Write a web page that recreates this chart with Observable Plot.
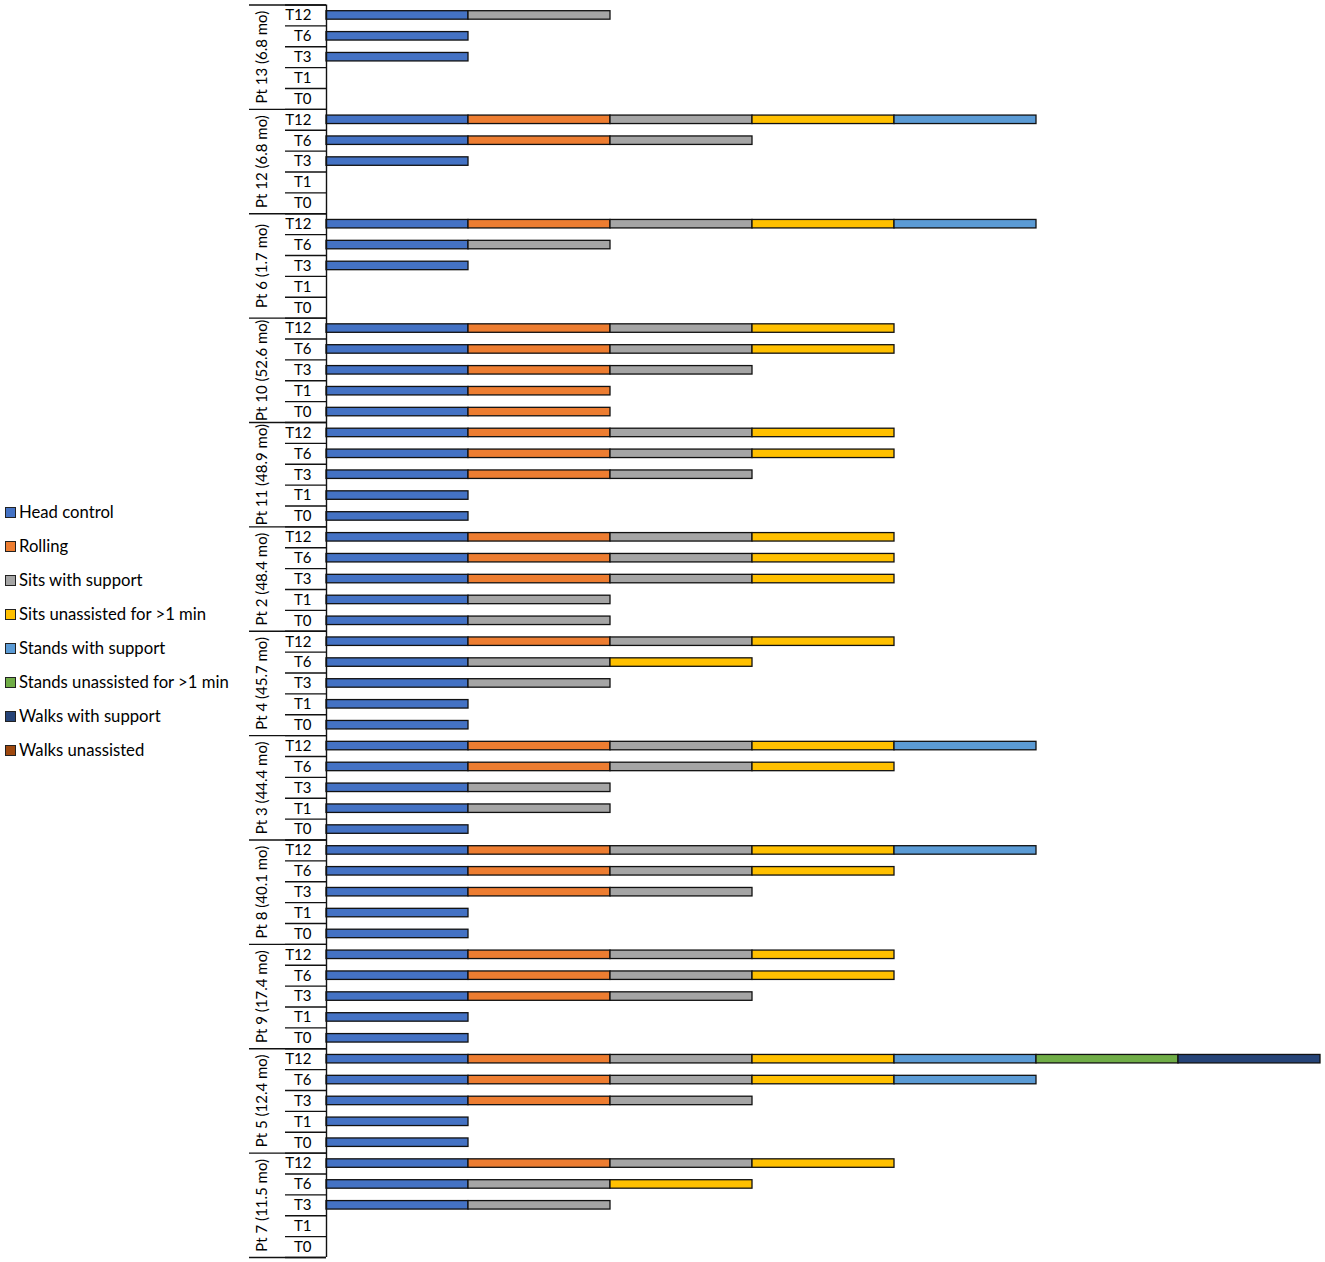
<!DOCTYPE html>
<html>
<head>
<meta charset="utf-8">
<script src="https://cdn.jsdelivr.net/npm/d3@7"></script>
<script src="https://cdn.jsdelivr.net/npm/@observablehq/plot@0.6"></script>
<style>
  html, body { margin: 0; padding: 0; background: #fff; }
  #wrap { position: relative; width: 1325px; height: 1262px; font-family: Lato, "Open Sans", sans-serif; }
  #legend { position: absolute; left: 5px; top: 495px; }
  .item { height: 34px; display: flex; align-items: center; font-size: 16.7px; color: #000; white-space: nowrap; }
  .sw { width: 9px; height: 9px; border: 1px solid #222; margin-right: 3px; flex: none; }
</style>
</head>
<body>
<div id="wrap"><div id="legend"></div></div>
<script>
const patients = ["Pt 13 (6.8 mo)", "Pt 12 (6.8 mo)", "Pt 6 (1.7 mo)", "Pt 10 (52.6 mo)", "Pt 11 (48.9 mo)", "Pt 2 (48.4 mo)", "Pt 4 (45.7 mo)", "Pt 3 (44.4 mo)", "Pt 8 (40.1 mo)", "Pt 9 (17.4 mo)", "Pt 5 (12.4 mo)", "Pt 7 (11.5 mo)"];
const timepoints = ["T12", "T6", "T3", "T1", "T0"];
const milestones = ["Head control", "Rolling", "Sits with support", "Sits unassisted for >1 min", "Stands with support", "Stands unassisted for >1 min", "Walks with support", "Walks unassisted"];
const colors = ["#4472C4", "#ED7D31", "#A5A5A5", "#FFC000", "#5B9BD5", "#70AD47", "#264478", "#9E480E"];

// milestones achieved per time point (T12, T6, T3, T1, T0), as indices into milestones
const pt13 = [[0, 2], [0], [0], [], []];
const pt12 = [[0, 1, 2, 3, 4], [0, 1, 2], [0], [], []];
const pt6  = [[0, 1, 2, 3, 4], [0, 2], [0], [], []];
const pt10 = [[0, 1, 2, 3], [0, 1, 2, 3], [0, 1, 2], [0, 1], [0, 1]];
const pt11 = [[0, 1, 2, 3], [0, 1, 2, 3], [0, 1, 2], [0], [0]];
const pt2  = [[0, 1, 2, 3], [0, 1, 2, 3], [0, 1, 2, 3], [0, 2], [0, 2]];
const pt4  = [[0, 1, 2, 3], [0, 2, 3], [0, 2], [0], [0]];
const pt3  = [[0, 1, 2, 3, 4], [0, 1, 2, 3], [0, 2], [0, 2], [0]];
const pt8  = [[0, 1, 2, 3, 4], [0, 1, 2, 3], [0, 1, 2], [0], [0]];
const pt9  = [[0, 1, 2, 3], [0, 1, 2, 3], [0, 1, 2], [0], [0]];
const pt5  = [[0, 1, 2, 3, 4, 5, 6], [0, 1, 2, 3, 4], [0, 1, 2], [0], [0]];
const pt7  = [[0, 1, 2, 3], [0, 2, 3], [0, 2], [], []];
const allPatients = [pt13, pt12, pt6, pt10, pt11, pt2, pt4, pt3, pt8, pt9, pt5, pt7];

const nRows = patients.length * timepoints.length;
const rows = [];
allPatients.forEach((p, pi) => p.forEach((list, ti) => {
  const r = pi * timepoints.length + ti;
  list.forEach((m, k) => rows.push({row: r, x1: k, x2: k + 1, milestone: milestones[m]}));
}));

const chart = Plot.plot({
  width: 1325,
  height: 1262,
  marginLeft: 326,
  marginRight: 5,
  marginTop: 4.5,
  marginBottom: 5,
  style: {fontFamily: "Lato, 'Open Sans', sans-serif", fontSize: "15px", color: "#000", background: "#fff"},
  x: {domain: [0, 7], axis: null},
  y: {domain: [0, nRows], reverse: true, axis: null},
  color: {domain: milestones, range: colors},
  marks: [
    Plot.rect(rows, {x1: "x1", x2: "x2", y1: "row", y2: d => d.row + 1, fill: "milestone", stroke: "#111", strokeWidth: 1.3, insetTop: 6.2, insetBottom: 6.2}),
    Plot.axisY(d3.range(0, nRows + 1), {tickSize: 41, tickFormat: () => "", label: null, stroke: "#111", strokeWidth: 1.4}),
    Plot.axisY(d3.range(0, nRows + 1, timepoints.length), {tickSize: 77, tickFormat: () => "", label: null, stroke: "#111", strokeWidth: 1.4}),
    Plot.axisY(d3.range(nRows).map(i => i + 0.5), {tickSize: 0, tickPadding: 15, label: null, tickFormat: v => timepoints[Math.floor(v) % timepoints.length], fontSize: 15}),
    Plot.text(patients, {y: (d, i) => i * timepoints.length + timepoints.length / 2, frameAnchor: "left", dx: -64, rotate: -90, textAnchor: "middle", text: d => d, fontSize: 15}),
    Plot.ruleX([0], {stroke: "#111", strokeWidth: 1.4})
  ]
});
document.getElementById("wrap").prepend(chart);

const legend = document.getElementById("legend");
milestones.forEach((m, i) => {
  const item = document.createElement("div");
  item.className = "item";
  const sw = document.createElement("span");
  sw.className = "sw";
  sw.style.background = colors[i];
  const t = document.createElement("span");
  t.textContent = m;
  item.append(sw, t);
  legend.append(item);
});
</script>
</body>
</html>
